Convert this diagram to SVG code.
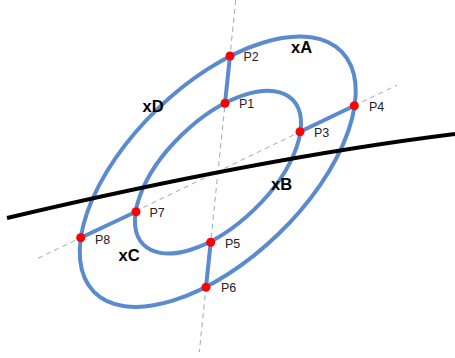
<svg xmlns="http://www.w3.org/2000/svg" width="455" height="358" viewBox="0 0 455 358">
<style>
.guide{fill:none;stroke:#8eaad8;stroke-width:1;stroke-dasharray:5 4}
.ring{fill:none;stroke:#5a8ad0;stroke-width:4}
.link{fill:none;stroke:#5a8ad0;stroke-width:4;stroke-linecap:round}
.cut{fill:none;stroke:#000;stroke-width:4;stroke-linecap:butt}
.dot{fill:#ff0000}
.pl{font-family:"Liberation Sans",Arial,sans-serif;font-size:12.5px;fill:#222}
.rl{font-family:"Liberation Sans",Arial,sans-serif;font-size:16.5px;font-weight:bold;fill:#000}
</style>
<rect width="455" height="358" fill="#fff"/>
<g id="guides">
<line class="guide" x1="235.8" y1="0" x2="199.3" y2="352"/>
<line class="guide" x1="38" y1="258.3" x2="397" y2="85.1"/>
</g>
<g id="outer-ring">
<ellipse class="ring" cx="217.75" cy="171.7" rx="172.5" ry="87" transform="rotate(-44 217.75 171.7)"/>
</g>
<g id="inner-ring">
<ellipse class="ring" cx="218" cy="172.2" rx="104" ry="52" transform="rotate(-44 218 172.2)"/>
</g>
<g id="connectors">
<line class="link" x1="225" y1="103.3" x2="230" y2="56"/>
<line class="link" x1="300" y1="131.7" x2="354.3" y2="105.7"/>
<line class="link" x1="210.7" y1="242.3" x2="206" y2="287.3"/>
<line class="link" x1="136" y1="211.7" x2="80.7" y2="237.7"/>
</g>
<g id="cut-line">
<path class="cut" d="M7 218 Q261 158 455 134"/>
</g>
<g id="P1"><circle class="dot" cx="225" cy="103.3" r="4.5"/><text class="pl" x="239" y="108">P1</text></g>
<g id="P2"><circle class="dot" cx="230" cy="56" r="4.5"/><text class="pl" x="243.5" y="61">P2</text></g>
<g id="P3"><circle class="dot" cx="300" cy="131.7" r="4.5"/><text class="pl" x="314" y="137">P3</text></g>
<g id="P4"><circle class="dot" cx="354.3" cy="105.7" r="4.5"/><text class="pl" x="369" y="111">P4</text></g>
<g id="P5"><circle class="dot" cx="210.7" cy="242.3" r="4.5"/><text class="pl" x="225" y="248">P5</text></g>
<g id="P6"><circle class="dot" cx="206" cy="287.3" r="4.5"/><text class="pl" x="221" y="292">P6</text></g>
<g id="P7"><circle class="dot" cx="136" cy="211.7" r="4.5"/><text class="pl" x="149.5" y="217">P7</text></g>
<g id="P8"><circle class="dot" cx="80.7" cy="237.7" r="4.5"/><text class="pl" x="95" y="243.5">P8</text></g>
<g id="labels">
<text class="rl" x="291" y="52.5">xA</text>
<text class="rl" x="271" y="189.5">xB</text>
<text class="rl" x="118.5" y="261">xC</text>
<text class="rl" x="142.5" y="112">xD</text>
</g>
</svg>
